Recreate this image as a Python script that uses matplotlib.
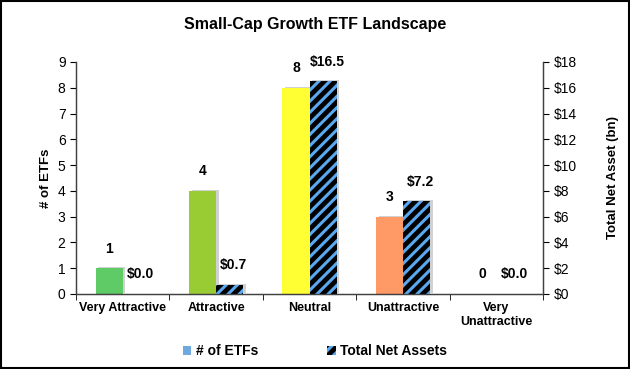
import matplotlib
matplotlib.use("Agg")
import matplotlib.pyplot as plt
from matplotlib.patches import Patch, Rectangle
from matplotlib.ticker import FuncFormatter, MultipleLocator

plt.rcParams['font.family'] = ['Liberation Sans', 'DejaVu Sans']
plt.rcParams['hatch.linewidth'] = 2.2

categories = ["Very Attractive", "Attractive", "Neutral", "Unattractive", "Very\nUnattractive"]
etf_counts = [1, 4, 8, 3, 0]
net_assets = [0.0, 0.7, 16.5, 7.2, 0.0]
count_colors = ["#5FCB66", "#99CC33", "#FFFF33", "#FF9966", "#A6A6A6"]
hatch_blue = "#5AA9F0"

fig = plt.figure(figsize=(6.3, 3.69), dpi=100)
ax = fig.add_axes([0.1206, 0.2033, 0.862 - 0.1206, 0.832 - 0.2033])
ax2 = ax.twinx()

w = 0.29
x = list(range(len(categories)))
shadow_dx = 0.03

for i in x:
    ax.bar(i - w / 2 + shadow_dx, etf_counts[i], w, bottom=0.04, color="#000000", alpha=0.18, zorder=1, linewidth=0)
    ax2.bar(i + w / 2 + shadow_dx, net_assets[i], w, bottom=0.08, color="#000000", alpha=0.18, zorder=1, linewidth=0)

bars1 = ax.bar([i - w / 2 for i in x], etf_counts, w, color=count_colors, zorder=2, linewidth=0)
bars2 = ax2.bar([i + w / 2 for i in x], net_assets, w, color="black", edgecolor=hatch_blue,
                hatch="///", zorder=2, linewidth=0)

for i in x:
    ax.annotate(f"{etf_counts[i]}", (i - w / 2, etf_counts[i]), xytext=(0, 9),
                textcoords="offset points", ha="center", va="bottom", fontsize=10, fontweight="bold")
    ax2.annotate(f"${net_assets[i]:.1f}", (i + w / 2, net_assets[i]), xytext=(3, 9),
                 textcoords="offset points", ha="center", va="bottom", fontsize=10, fontweight="bold")

ax.set_xlim(-0.5, len(categories) - 0.5)
ax.set_ylim(0, 9)
ax2.set_ylim(0, 18)
ax.yaxis.set_major_locator(MultipleLocator(1))
ax2.yaxis.set_major_locator(MultipleLocator(2))
ax2.yaxis.set_major_formatter(FuncFormatter(lambda v, p: f"${v:.0f}"))

ax.set_xticks(x)
ax.set_xticklabels(categories, fontsize=9, fontweight="bold")
ax.tick_params(axis="x", length=0, pad=6)
ax.set_xticks([i + 0.5 for i in range(-1, len(categories))], minor=True)
ax.tick_params(axis="x", which="minor", length=4, direction="out")

ax.tick_params(axis="y", labelsize=10, length=4, direction="out")
ax2.tick_params(axis="y", labelsize=10, length=4, direction="out")

ax.set_ylabel("# of ETFs", fontsize=9.5, fontweight="bold", labelpad=4)
ax2.set_ylabel("Total Net Asset (bn)", fontsize=9.5, fontweight="bold", labelpad=22)

for a in (ax, ax2):
    a.spines["top"].set_visible(False)
    for s in ("left", "right", "bottom"):
        a.spines[s].set_color("#404040")
        a.spines[s].set_linewidth(0.9)

fig.suptitle("Small-Cap Growth ETF Landscape", fontsize=11.5, fontweight="bold", y=0.955)

handles = [Patch(facecolor="#6FA8DC", edgecolor="none", label="# of ETFs"),
           Patch(facecolor="black", edgecolor=hatch_blue, hatch="///", linewidth=0, label="Total Net Assets")]
fig.legend(handles=handles, loc="lower center", bbox_to_anchor=(0.5, -0.005), ncol=2, frameon=False,
           prop={"size": 10, "weight": "bold"}, handlelength=0.6, handleheight=0.6,
           handletextpad=0.3, columnspacing=5)

fig.patches.append(Rectangle((0.002, 0.003), 0.996, 0.994, transform=fig.transFigure,
                             fill=False, edgecolor="black", linewidth=1.5))

fig.savefig("out.png", dpi=100)
